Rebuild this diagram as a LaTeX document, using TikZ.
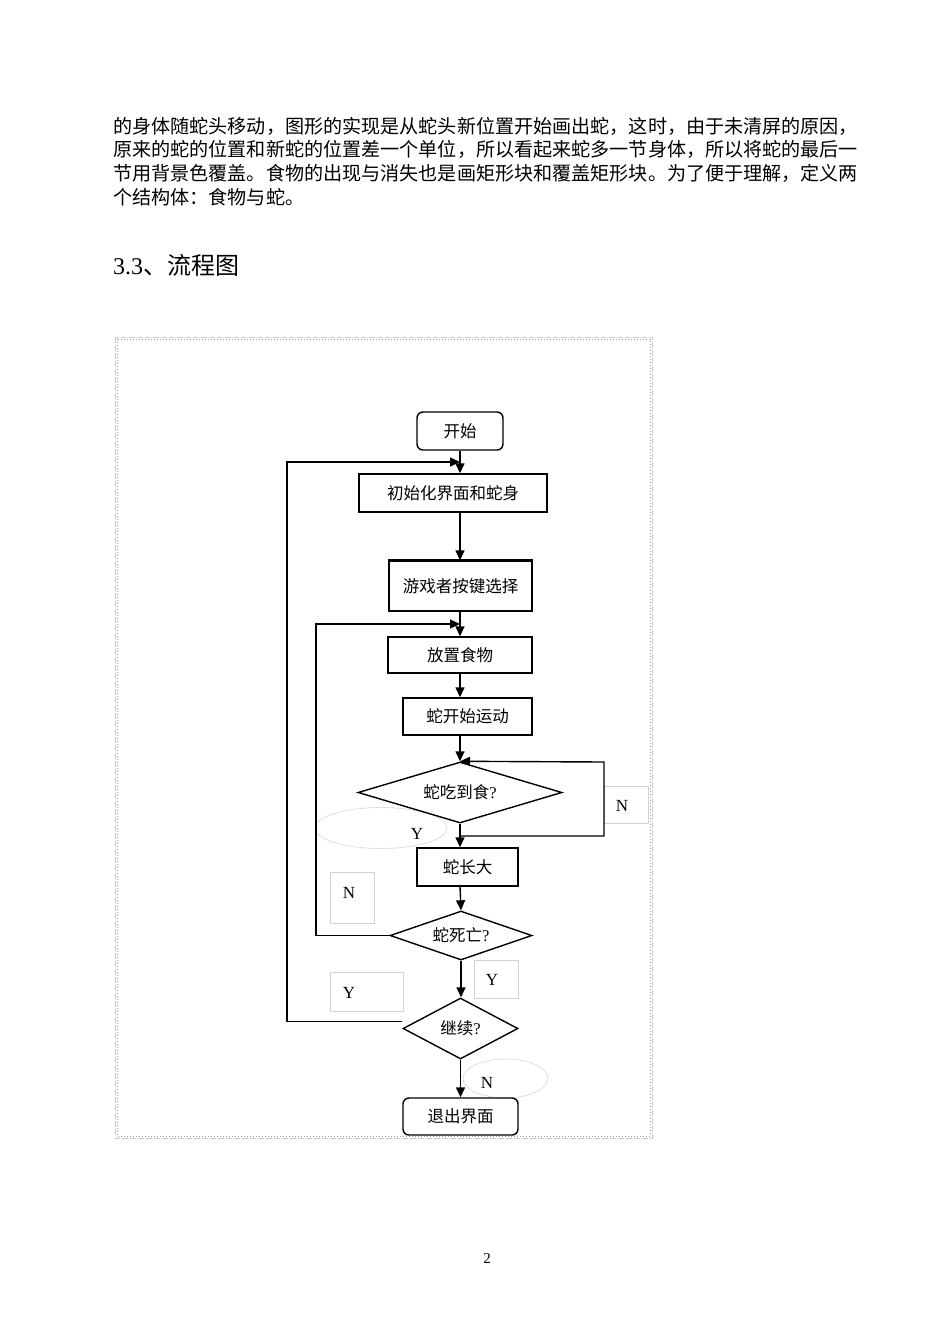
\documentclass[tikz,border=0pt]{standalone}
\usepackage{fontspec}
\setmainfont{Liberation Serif}
\newfontfamily\cjk{Noto Sans CJK SC}
\usetikzlibrary{shapes.geometric,arrows.meta,calc}
\begin{document}
\begin{tikzpicture}[x=1pt,y=-1pt,
  body/.style={anchor=base west,inner sep=0pt,font=\cjk\fontsize{19.1}{24}\selectfont},
  box/.style={draw,line width=1.4pt,inner sep=0pt,font=\cjk\fontsize{16.5}{20}\selectfont},
  rbox/.style={box,rounded corners=6pt},
  dia/.style={draw,diamond,aspect=3,line width=1.4pt,inner sep=0pt,font=\cjk\fontsize{16.5}{20}\selectfont},
  arr/.style={line width=1.4pt,-{Triangle[length=10pt,width=9pt]}},
  ln/.style={line width=1.4pt},
  lbox/.style={draw=gray!35,line width=0.8pt,inner sep=0pt},
  lell/.style={draw=gray!25,line width=0.8pt,ellipse,inner sep=0pt},
  lbl/.style={inner sep=0pt,font=\fontsize{17}{20}\selectfont}]
\useasboundingbox[fill=white] (0,0) rectangle (950,1344);

% body text
\node[body] (t1) at (113,133) {的身体随蛇头移动，图形的实现是从蛇头新位置开始画出蛇，这时，由于未清屏的原因，};
\node[body] (t2) at (113,156.5) {原来的蛇的位置和新蛇的位置差一个单位，所以看起来蛇多一节身体，所以将蛇的最后一};
\node[body] (t3) at (113,180.5) {节用背景色覆盖。食物的出现与消失也是画矩形块和覆盖矩形块。为了便于理解，定义两};
\node[body] (t4) at (113,204.5) {个结构体：食物与蛇。};
\node[anchor=base west,inner sep=0pt,font=\fontsize{24}{28}\selectfont] (h) at (113,274.5) {3.3{\cjk 、流程图}};
\node[inner sep=0pt,font=\fontsize{15}{18}\selectfont] (pg) at (487,1259) {2};

% frame
\draw[gray!40,dash pattern=on 6pt off 2pt,line width=1pt] (115,337) rectangle (652,1138);
\draw[gray!75,dotted,line width=1pt] (117,339) rectangle (650,1136);

% faint label shapes (behind lines)
\node[lell,minimum width=132,minimum height=41] (yell) at (381,828) {};
\node[lell,minimum width=85,minimum height=39] (nell) at (505.5,1078.5) {};
\node[lbox,minimum width=44,minimum height=37] (nb1) at (626,804.5) {};
\node[lbox,minimum width=44,minimum height=51] (nb2) at (352,897.5) {};
\node[lbox,minimum width=44,minimum height=38] (yb1) at (496,979) {};
\node[lbox,minimum width=73,minimum height=39] (yb2) at (366.5,991.5) {};

% flowchart nodes
\node[rbox,minimum width=86,minimum height=38] (start) at (460,431) {开始};
\node[box,minimum width=188,minimum height=38] (init) at (453,493) {初始化界面和蛇身};
\node[box,minimum width=143,minimum height=50] (key) at (460.5,586) {游戏者按键选择};
\draw[line width=2.2pt] (key.north west) -- (key.north east);
\node[box,minimum width=144,minimum height=36] (food) at (460,655) {放置食物};
\node[box,minimum width=129,minimum height=37] (move) at (467.5,716.5) {蛇开始运动};
\node[dia,minimum width=204,minimum height=61] (eat) at (460,792.5) {蛇吃到食{\rmfamily ?}};
\node[box,minimum width=101,minimum height=38] (grow) at (467.5,867) {蛇长大};
\node[dia,minimum width=142,minimum height=49] (dead) at (461,935.5) {蛇死亡{\rmfamily ?}};
\node[dia,minimum width=115,minimum height=61] (cont) at (460.5,1028.5) {继续{\rmfamily ?}};
\node[rbox,minimum width=115,minimum height=37] (exit) at (460.5,1116.5) {退出界面};

% labels
\node[lbl] (nt1) at (622,806) {N};
\node[lbl] (yt1) at (417,834) {Y};
\node[lbl] (nt2) at (349,893) {N};
\node[lbl] (yt2) at (492,980) {Y};
\node[lbl] (yt3) at (349,993) {Y};
\node[lbl] (nt3) at (487,1083) {N};

% helper coordinates
\coordinate (l1) at (287,462);
\coordinate (j1) at (460,462);
\coordinate (l2) at (316,624);
\coordinate (j2) at (460,624);
\coordinate (nb) at (604,836);
\coordinate (nt) at (604,762);

% connectors
\draw[arr] (start.south) -- (start.south |- init.north);
\draw[arr] (start.south |- init.south) -- (key.north -| start.south);
\draw[arr] (key.south -| start.south) -- (food.north -| start.south);
\draw[arr] (food.south) -- (food.south |- move.north);
\draw[arr] (food.south |- move.south) -- (eat.north);
\draw[arr] (eat.south) -- (eat.south |- grow.north);
\draw[arr] (eat.south |- nb) -- (nb) -- (nt) -- (eat.north);
\draw[arr] (eat.south |- grow.south) -- (dead.north);
\draw[arr] (dead.south) -- (dead.south |- cont.north);
\draw[arr] (cont.south) -- (cont.south |- exit.north);
\draw[arr] (dead.west) -| (l2) -- (j2);
\draw[arr] ($(cont.west)+(0,-7)$) -| (l1) -- (j1);
\end{tikzpicture}
\end{document}
